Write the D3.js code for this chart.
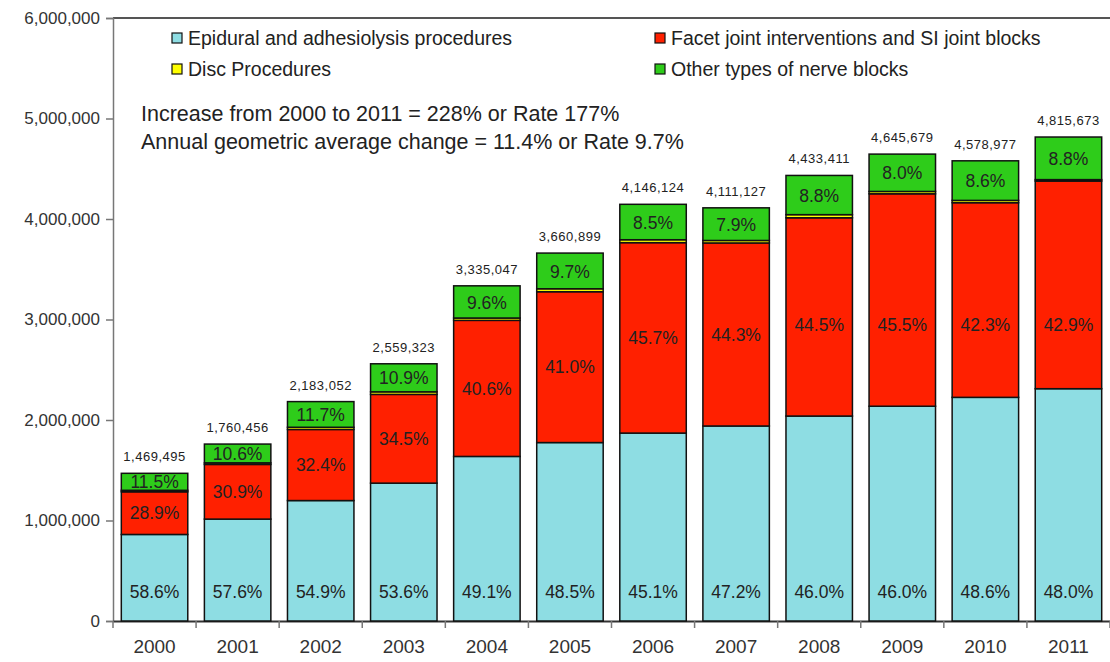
<!DOCTYPE html>
<html>
<head>
<meta charset="utf-8">
<script src="https://cdn.jsdelivr.net/npm/d3@7"></script>
<style>
  body { margin: 0; background: #fff; }
  svg { display: block; font-family: "Liberation Sans", Arial, sans-serif; }
</style>
</head>
<body>
<svg id="chart" width="1110" height="662"></svg>
<script>
// data
const years = ['2000', '2001', '2002', '2003', '2004', '2005', '2006', '2007', '2008', '2009', '2010', '2011'];
const totals = [1469495, 1760456, 2183052, 2559323, 3335047, 3660899, 4146124, 4111127, 4433411, 4645679, 4578977, 4815673];
const epiduralPct = [58.6, 57.6, 54.9, 53.6, 49.1, 48.5, 45.1, 47.2, 46.0, 46.0, 48.6, 48.0];
const facetPct = [28.9, 30.9, 32.4, 34.5, 40.6, 41.0, 45.7, 44.3, 44.5, 45.5, 42.3, 42.9];
const discPct = [1.0, 0.9, 1.0, 1.0, 0.7, 0.8, 0.7, 0.6, 0.7, 0.5, 0.5, 0.3];
const otherPct = [11.5, 10.6, 11.7, 10.9, 9.6, 9.7, 8.5, 7.9, 8.8, 8.0, 8.6, 8.8];
const yTicks = [0, 1000000, 2000000, 3000000, 4000000, 5000000, 6000000];
const seriesNames = ['Epidural and adhesiolysis procedures', 'Facet joint interventions and SI joint blocks', 'Disc Procedures', 'Other types of nerve blocks'];
const notes = ['Increase from 2000 to 2011 = 228% or Rate 177%', 'Annual geometric average change = 11.4% or Rate 9.7%'];

const colors = ['#8edde3', '#ff2000', '#ffff00', '#2ecc1a'];
const pcts = [epiduralPct, facetPct, discPct, otherPct];

const margin = { top: 18, right: 0, bottom: 41, left: 113 };
const width = 1110, height = 662;

const svg = d3.select('#chart');

const x = d3.scaleBand()
  .domain(years)
  .range([margin.left, width - margin.right])
  .paddingInner(0.2)
  .paddingOuter(0.1);

const y = d3.scaleLinear()
  .domain([0, 6000000])
  .range([height - margin.bottom, margin.top]);

// build stacked rows: value of each segment = total * pct
const rows = years.map((yr, i) => {
  const row = { year: yr, total: totals[i] };
  pcts.forEach((p, k) => { row['s' + k] = totals[i] * p[i] / 100; });
  return row;
});
const stack = d3.stack().keys(['s0', 's1', 's2', 's3'])(rows);

// top frame line
svg.append('line')
  .attr('x1', margin.left).attr('x2', width)
  .attr('y1', margin.top).attr('y2', margin.top)
  .attr('stroke', '#555').attr('stroke-width', 2);

// y axis
const yAxis = svg.append('g')
  .attr('transform', `translate(${margin.left},0)`)
  .call(d3.axisLeft(y).tickValues(yTicks).tickFormat(d3.format(',')).tickSize(7).tickPadding(6));
yAxis.select('.domain').attr('stroke', '#777').attr('stroke-width', 1.5);
yAxis.selectAll('.tick line').attr('stroke', '#777').attr('stroke-width', 1.5);
yAxis.selectAll('text').attr('font-size', 17).attr('fill', '#333')
  .attr('font-family', '"Liberation Sans", Arial, sans-serif');

// x axis (labels centered, ticks between bars)
const xAxis = svg.append('g')
  .attr('transform', `translate(0,${y(0)})`)
  .call(d3.axisBottom(x).tickSize(0).tickPadding(19));
xAxis.select('.domain').attr('stroke', '#333').attr('stroke-width', 2);
xAxis.selectAll('text').attr('font-size', 19).attr('fill', '#333')
  .attr('font-family', '"Liberation Sans", Arial, sans-serif');
svg.append('g').selectAll('line')
  .data(d3.range(years.length + 1))
  .join('line')
  .attr('x1', i => margin.left + i * x.step())
  .attr('x2', i => margin.left + i * x.step())
  .attr('y1', y(0)).attr('y2', y(0) + 7)
  .attr('stroke', '#777').attr('stroke-width', 1.5);

// bars
svg.append('g')
  .selectAll('g')
  .data(stack)
  .join('g')
  .attr('fill', (d, k) => colors[k])
  .selectAll('rect')
  .data(d => d)
  .join('rect')
  .attr('x', d => x(d.data.year))
  .attr('width', x.bandwidth())
  .attr('y', d => y(d[1]))
  .attr('height', d => y(d[0]) - y(d[1]))
  .attr('stroke', '#111')
  .attr('stroke-width', 1.5);

// percent labels
const lbl = svg.append('g')
  .attr('font-size', 17.5)
  .attr('fill', '#222')
  .attr('text-anchor', 'middle');

// epidural: near the bottom of the bar
lbl.selectAll('.epi')
  .data(stack[0])
  .join('text')
  .attr('class', 'epi')
  .attr('x', d => x(d.data.year) + x.bandwidth() / 2)
  .attr('y', y(290000))
  .attr('dy', '0.35em')
  .text((d, i) => epiduralPct[i].toFixed(1) + '%');

// facet: middle of segment, but not higher than ~2.95M
lbl.selectAll('.facet')
  .data(stack[1])
  .join('text')
  .attr('class', 'facet')
  .attr('x', d => x(d.data.year) + x.bandwidth() / 2)
  .attr('y', d => Math.max(y((d[0] + d[1]) / 2), y(2950000)))
  .attr('dy', '0.35em')
  .text((d, i) => facetPct[i].toFixed(1) + '%');

// other nerve blocks: middle of green segment
lbl.selectAll('.other')
  .data(stack[3])
  .join('text')
  .attr('class', 'other')
  .attr('x', d => x(d.data.year) + x.bandwidth() / 2)
  .attr('y', d => y((d[0] + d[1]) / 2))
  .attr('dy', '0.38em')
  .text((d, i) => otherPct[i].toFixed(1) + '%');

// totals above bars
svg.append('g')
  .attr('font-size', 13)
  .attr('fill', '#222')
  .attr('text-anchor', 'middle')
  .attr('letter-spacing', 0.5)
  .selectAll('text')
  .data(rows)
  .join('text')
  .attr('x', d => x(d.year) + x.bandwidth() / 2)
  .attr('y', d => y(d.total) - 12)
  .text(d => d3.format(',')(d.total));

// legend
const legend = svg.append('g').attr('font-size', 19.5).attr('fill', '#222');
const legPos = [[172, 38], [655, 38], [172, 69], [655, 69]];
const legItems = legend.selectAll('g')
  .data(seriesNames)
  .join('g')
  .attr('transform', (d, k) => `translate(${legPos[k][0]},${legPos[k][1]})`);
legItems.append('rect')
  .attr('x', 0).attr('y', -5)
  .attr('width', 10).attr('height', 10)
  .attr('fill', (d, k) => colors[k])
  .attr('stroke', '#111').attr('stroke-width', 1.2);
legItems.append('text')
  .attr('x', 16).attr('dy', '0.35em')
  .text(d => d);

// annotation
svg.append('g')
  .attr('font-size', 21.5)
  .attr('fill', '#222')
  .selectAll('text')
  .data(notes)
  .join('text')
  .attr('x', 141)
  .attr('y', (d, i) => 121 + i * 28)
  .text(d => d);
</script>
</body>
</html>
